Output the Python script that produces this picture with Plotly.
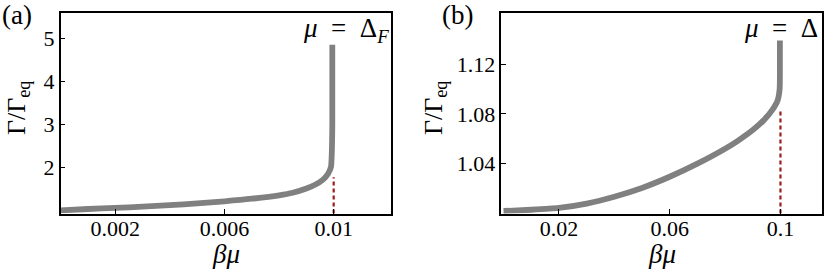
import plotly.graph_objects as go

# Panel (a) data
xa = [0.0, 0.001, 0.002, 0.003, 0.004, 0.005, 0.006, 0.007, 0.008, 0.0085,
      0.009, 0.0093, 0.0096, 0.0098, 0.0099, 0.00993, 0.00995, 0.00995]
ya = [0.99, 1.02, 1.045, 1.075, 1.11, 1.15, 1.20, 1.26, 1.34, 1.40,
      1.50, 1.58, 1.70, 1.85, 2.0, 2.3, 3.0, 4.85]
xa_ref = [0.01, 0.01]
ya_ref = [0.915, 1.76]
xa_ticks = [0.002, 0.006, 0.01]
xa_ticklabels = ["0.002", "0.006", "0.01"]
ya_ticks = [2, 3, 4, 5]
ya_ticklabels = ["2", "3", "4", "5"]

# Panel (b) data
xb = [0.0, 0.01, 0.02, 0.03, 0.04, 0.05, 0.06, 0.07, 0.08, 0.085,
      0.09, 0.094, 0.097, 0.099, 0.0997, 0.0998, 0.0998]
yb = [1.002, 1.003, 1.0045, 1.008, 1.0135, 1.0205, 1.0295, 1.040, 1.052, 1.059,
      1.067, 1.075, 1.083, 1.091, 1.100, 1.115, 1.139]
xb_ref = [0.1, 0.1]
yb_ref = [1.0, 1.082]
xb_ticks = [0.02, 0.06, 0.1]
xb_ticklabels = ["0.02", "0.06", "0.1"]
yb_ticks = [1.04, 1.08, 1.12]
yb_ticklabels = ["1.04", "1.08", "1.12"]

FONT = "Liberation Serif, DejaVu Serif, serif"
GRAY = "#808080"
RED = "#9e1b1b"

W, H = 830, 270


def px(x):
    return x / W


def py(y):
    return 1 - y / H


fig = go.Figure()

fig.add_trace(go.Scatter(x=xa, y=ya, mode="lines", line=dict(color=GRAY, width=5.8, shape="spline", smoothing=0.6),
                         xaxis="x", yaxis="y", showlegend=False, hoverinfo="skip"))
fig.add_trace(go.Scatter(x=xa_ref, y=ya_ref, mode="lines", line=dict(color=RED, width=2.2, dash="4px,3px"),
                         xaxis="x", yaxis="y", showlegend=False, hoverinfo="skip"))
fig.add_trace(go.Scatter(x=xb, y=yb, mode="lines", line=dict(color=GRAY, width=5.8, shape="spline", smoothing=0.6),
                         xaxis="x2", yaxis="y2", showlegend=False, hoverinfo="skip"))
fig.add_trace(go.Scatter(x=xb_ref, y=yb_ref, mode="lines", line=dict(color=RED, width=2.2, dash="4px,3px"),
                         xaxis="x2", yaxis="y2", showlegend=False, hoverinfo="skip"))

ydom = [py(213.5), py(12.7)]
common = dict(showline=True, linecolor="black", linewidth=1.5, mirror=True, ticks="inside",
              ticklen=5, tickwidth=1, tickcolor="black", showgrid=False, zeroline=False,
              tickfont=dict(family=FONT, size=22, color="black"), automargin=False)

fig.update_layout(
    width=W, height=H, margin=dict(l=0, r=0, t=0, b=0),
    paper_bgcolor="white", plot_bgcolor="white",
    xaxis=dict(domain=[px(60.7), px(391)], range=[0, 0.0121], tickvals=xa_ticks, ticktext=xa_ticklabels,
               anchor="y", ticklabelstandoff=-6, **common),
    yaxis=dict(domain=ydom, range=[0.915, 5.6], tickvals=ya_ticks, ticktext=ya_ticklabels,
               anchor="x", **common),
    xaxis2=dict(domain=[px(501.3), px(822)], range=[-0.0008, 0.115], tickvals=xb_ticks, ticktext=xb_ticklabels,
                anchor="y2", ticklabelstandoff=-6, **common),
    yaxis2=dict(domain=ydom, range=[1.0, 1.1613], tickvals=yb_ticks, ticktext=yb_ticklabels,
                anchor="x2", **common),
)

anns = [
    dict(text="(a)", x=px(0), y=py(15), xanchor="left", yanchor="middle", size=27),
    dict(text="(b)", x=px(440), y=py(15), xanchor="left", yanchor="middle", size=27),
    dict(text="<i>μ</i>&nbsp;&nbsp;=&nbsp;&nbsp;Δ<sub><i>F</i></sub>", x=px(346), y=py(30),
         xanchor="center", yanchor="middle", size=27),
    dict(text="<i>μ</i>&nbsp;&nbsp;=&nbsp;&nbsp;Δ", x=px(781), y=py(28), xanchor="center", yanchor="middle", size=27),
    dict(text="<i>βμ</i>", x=px(225.5), y=py(254), xanchor="center", yanchor="middle", size=27),
    dict(text="<i>βμ</i>", x=px(661.5), y=py(254), xanchor="center", yanchor="middle", size=27),
    dict(text="Γ/Γ<sub>eq</sub>", x=px(18), y=py(108), xanchor="center", yanchor="middle", textangle=-90, size=26),
    dict(text="Γ/Γ<sub>eq</sub>", x=px(435), y=py(108), xanchor="center", yanchor="middle", textangle=-90, size=26),
]
for a in anns:
    s = a.pop("size")
    a.update(xref="paper", yref="paper", showarrow=False, font=dict(family=FONT, size=s, color="black"))
fig.update_layout(annotations=anns)

# remove the browser's default 8px page margin so the figure fills the window exactly
fig.write_html("out.html", config={"displayModeBar": False},
               post_script="document.body.style.margin='0';")
